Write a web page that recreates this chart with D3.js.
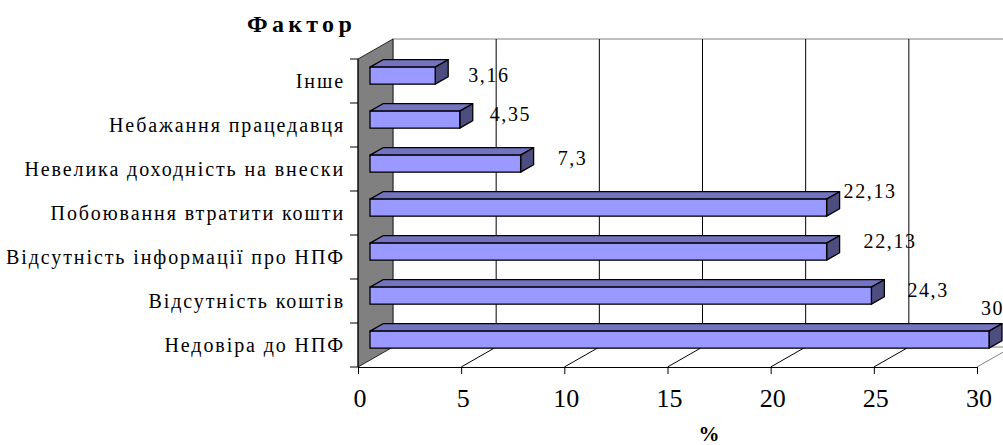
<!DOCTYPE html>
<html>
<head>
<meta charset="utf-8">
<script src="https://cdn.jsdelivr.net/npm/d3@7"></script>
</head>
<body style="margin:0">
<script>
// chart data (top to bottom as drawn)
const categories = [
    "Інше",
    "Небажання працедавця",
    "Невелика доходність на внески",
    "Побоювання втратити кошти",
    "Відсутність інформації про НПФ",
    "Відсутність коштів",
    "Недовіра до НПФ"
];
const values = [3.16, 4.35, 7.3, 22.13, 22.13, 24.3, 30];
const valueLabels = ["3,16", "4,35", "7,3", "22,13", "22,13", "24,3", "30"];
const xTicks = [0, 5, 10, 15, 20, 25, 30];

// data labels were hand-placed in the original, nudge them from the bar end
const labelNudge = [[33, 15], [30, 10], [37, 10], [17, -1], [37, 5], [36, 10], [-8, -16]];

const fontName = "Liberation Serif";

const svgWidth = 1003;
const svgHeight = 445;

// front plane of the 3d box
const plot = { left: 358, right: 977, top: 59, bottom: 367 };
// depth of the box
const depth = { dx: 35, dy: -20 };
// bar sits between these depth fractions
const d1 = 0.343, d2 = 0.714;
const barH = 17;

const svg = d3.select("body")
    .append("svg")
    .attr("width", svgWidth)
    .attr("height", svgHeight);

const xScale = d3.scaleLinear()
    .domain([0, 30])
    .range([plot.left, plot.right]);

const yScale = d3.scaleBand()
    .domain(categories)
    .range([plot.top, plot.bottom])
    .padding(0);

const backX = v => xScale(v) + depth.dx;
const backTop = plot.top + depth.dy;
const backBottom = plot.bottom + depth.dy;

// back wall
svg.append("rect")
    .attr("x", backX(0))
    .attr("y", backTop)
    .attr("width", backX(30) - backX(0))
    .attr("height", backBottom - backTop)
    .attr("fill", "#fff")
    .attr("stroke", "#808080");

// gridlines on the back wall
svg.append("g")
    .selectAll("line")
    .data(xTicks.slice(1))
    .join("line")
    .attr("x1", d => backX(d))
    .attr("x2", d => backX(d))
    .attr("y1", backTop)
    .attr("y2", backBottom)
    .attr("stroke", "#000")
    .attr("stroke-width", 1);

// floor lines
svg.append("g")
    .selectAll("line")
    .data(xTicks.slice(1))
    .join("line")
    .attr("x1", d => xScale(d))
    .attr("y1", plot.bottom)
    .attr("x2", d => backX(d))
    .attr("y2", backBottom)
    .attr("stroke", d => d === 30 ? "#808080" : "#000")
    .attr("stroke-width", 1);

// left side wall (grey)
svg.append("polygon")
    .attr("points", [
        [xScale(0), plot.top],
        [backX(0), backTop],
        [backX(0), backBottom],
        [xScale(0), plot.bottom]
    ].join(" "))
    .attr("fill", "#808080")
    .attr("stroke", "#000")
    .attr("stroke-width", 0.8);

// bars
const barGroup = svg.append("g");
const bars = categories.map((c, i) => {
    const y0 = yScale(c) + (yScale.step() - barH) / 2 + 1.5 + depth.dy * d1;
    const xa = xScale(0) + depth.dx * d1;
    const xb = xScale(values[i]) + depth.dx * d1;
    const ox = depth.dx * (d2 - d1);
    const oy = depth.dy * (d2 - d1);
    return { y0, xa, xb, ox, oy, i };
});

barGroup.selectAll("g")
    .data(bars)
    .join("g")
    .each(function(b) {
        const g = d3.select(this);
        // top face
        g.append("polygon")
            .attr("points", [[b.xa, b.y0], [b.xa + b.ox, b.y0 + b.oy], [b.xb + b.ox, b.y0 + b.oy], [b.xb, b.y0]].join(" "))
            .attr("fill", "#7373c0")
            .attr("stroke", "#000")
            .attr("stroke-width", 1.3)
            .attr("stroke-linejoin", "round");
        // side face
        g.append("polygon")
            .attr("points", [[b.xb, b.y0], [b.xb + b.ox, b.y0 + b.oy], [b.xb + b.ox, b.y0 + b.oy + barH], [b.xb, b.y0 + barH]].join(" "))
            .attr("fill", "#4d4d80")
            .attr("stroke", "#000")
            .attr("stroke-width", 1.3)
            .attr("stroke-linejoin", "round");
        // front face
        g.append("rect")
            .attr("x", b.xa)
            .attr("y", b.y0)
            .attr("width", b.xb - b.xa)
            .attr("height", barH)
            .attr("fill", "#9999ff")
            .attr("stroke", "#000")
            .attr("stroke-width", 1.3);
    });

// data labels
svg.append("g")
    .selectAll("text")
    .data(bars)
    .join("text")
    .attr("x", b => b.xb + labelNudge[b.i][0])
    .attr("y", b => b.y0 + labelNudge[b.i][1])
    .attr("font-family", fontName)
    .attr("font-size", 20)
    .attr("letter-spacing", 1.6)
    .text(b => valueLabels[b.i]);

// bottom axis: line and ticks from d3, labels drawn below
const bottomAxis = d3.axisBottom(xScale)
    .tickValues(xTicks)
    .tickSize(7)
    .tickSizeOuter(0)
    .tickFormat("");

const xAxisG = svg.append("g")
    .attr("transform", `translate(0, ${plot.bottom})`)
    .call(bottomAxis);
xAxisG.select(".domain").attr("stroke", "#000");
xAxisG.selectAll(".tick line").attr("stroke", "#000");

svg.append("g")
    .selectAll("text")
    .data(xTicks)
    .join("text")
    .attr("x", d => xScale(d) + 2)
    .attr("y", 407)
    .attr("text-anchor", "middle")
    .attr("font-family", fontName)
    .attr("font-size", 26)
    .text(d => d);

// left axis with ticks at category boundaries
svg.append("line")
    .attr("x1", xScale(0)).attr("x2", xScale(0))
    .attr("y1", plot.top).attr("y2", plot.bottom)
    .attr("stroke", "#000");

const boundaries = categories.map(c => yScale(c)).concat([plot.bottom]);
svg.append("g")
    .selectAll("line")
    .data(boundaries)
    .join("line")
    .attr("x1", xScale(0) - 8)
    .attr("x2", xScale(0))
    .attr("y1", d => d)
    .attr("y2", d => d)
    .attr("stroke", "#000");

// category labels
svg.append("g")
    .selectAll("text")
    .data(categories)
    .join("text")
    .attr("x", 345)
    .attr("y", d => yScale(d) + yScale.bandwidth() / 2 + 7)
    .attr("text-anchor", "end")
    .attr("font-family", fontName)
    .attr("font-size", 20)
    .attr("letter-spacing", 1.9)
    .text(d => d);

// titles
svg.append("text")
    .attr("x", 247)
    .attr("y", 32)
    .attr("font-family", fontName)
    .attr("font-size", 24)
    .attr("font-weight", "bold")
    .attr("letter-spacing", 4.3)
    .text("Фактор");

svg.append("text")
    .attr("x", 709)
    .attr("y", 441)
    .attr("text-anchor", "middle")
    .attr("font-family", fontName)
    .attr("font-size", 21)
    .attr("font-weight", "bold")
    .text("%");
</script>
</body>
</html>
